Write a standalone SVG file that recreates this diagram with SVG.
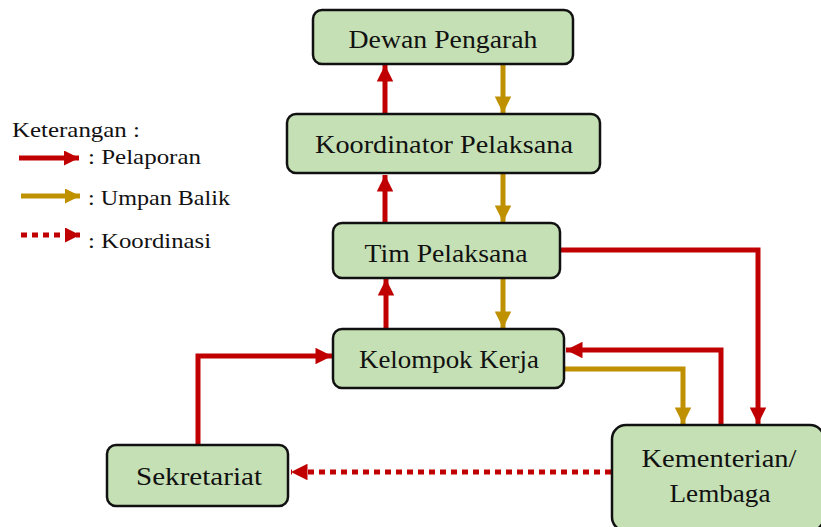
<svg xmlns="http://www.w3.org/2000/svg" width="821" height="527" viewBox="0 0 821 527">
<style>
.box{fill:#C5E0B4;stroke:#111;stroke-width:2.5}
.t{font-family:"Liberation Serif",serif;font-size:26px;fill:#111;text-anchor:middle}
.lg{font-family:"Liberation Serif",serif;font-size:21px;fill:#111}
.r{fill:none;stroke:#C00000;stroke-width:5}
.g{fill:none;stroke:#BF9000;stroke-width:5}
.d{fill:none;stroke:#C00000;stroke-width:5;stroke-dasharray:6 5}
</style>
<defs>
<marker id="ar" viewBox="0 0 10 10" refX="10" refY="5" markerWidth="4.8" markerHeight="3.3" markerUnits="strokeWidth" orient="auto"><path d="M0,0 L10,5 L0,10 Z" fill="#C00000"/></marker>
<marker id="ag" viewBox="0 0 10 10" refX="10" refY="5" markerWidth="4.8" markerHeight="3.3" markerUnits="strokeWidth" orient="auto"><path d="M0,0 L10,5 L0,10 Z" fill="#BF9000"/></marker>
<marker id="al" viewBox="0 0 10 10" refX="10" refY="5" markerWidth="3.6" markerHeight="3" markerUnits="strokeWidth" orient="auto"><path d="M0,0 L10,5 L0,10 Z" fill="#C00000"/></marker>
<marker id="agl" viewBox="0 0 10 10" refX="10" refY="5" markerWidth="3.6" markerHeight="3" markerUnits="strokeWidth" orient="auto"><path d="M0,0 L10,5 L0,10 Z" fill="#BF9000"/></marker>
</defs>
<g id="legend">
<text class="lg" x="12" y="137" textLength="128" lengthAdjust="spacingAndGlyphs">Keterangan :</text>
<line class="r" x1="19" y1="158" x2="79" y2="158" marker-end="url(#al)"/>
<text class="lg" x="88" y="164" textLength="113" lengthAdjust="spacingAndGlyphs">: Pelaporan</text>
<line class="g" x1="21" y1="196" x2="80" y2="196" marker-end="url(#agl)"/>
<text class="lg" x="88" y="205" textLength="142" lengthAdjust="spacingAndGlyphs">: Umpan Balik</text>
<line class="d" x1="21" y1="235" x2="80" y2="235" marker-end="url(#al)"/>
<text class="lg" x="88" y="248" textLength="123" lengthAdjust="spacingAndGlyphs">: Koordinasi</text>
</g>
<g id="connectors">
<line class="r" x1="385" y1="114" x2="385" y2="65" marker-end="url(#ar)"/>
<line class="g" x1="503" y1="64" x2="503" y2="113" marker-end="url(#ag)"/>
<line class="r" x1="385" y1="223" x2="385" y2="175" marker-end="url(#ar)"/>
<line class="g" x1="503" y1="174" x2="503" y2="222" marker-end="url(#ag)"/>
<line class="r" x1="386" y1="329" x2="386" y2="279" marker-end="url(#ar)"/>
<line class="g" x1="503" y1="279" x2="503" y2="328" marker-end="url(#ag)"/>
<polyline class="r" points="561,250 758,250 758,424" marker-end="url(#ar)"/>
<polyline class="r" points="721,425 721,350 566,350" marker-end="url(#ar)"/>
<polyline class="g" points="565,369 683,369 683,424" marker-end="url(#ag)"/>
<polyline class="r" points="198,445 198,356 332,356" marker-end="url(#ar)"/>
<line class="d" x1="611" y1="472" x2="291" y2="472" marker-end="url(#ar)"/>
</g>
<g id="dewan-pengarah">
<rect class="box" x="313" y="10" width="260" height="54" rx="9"/>
<text class="t" x="443" y="48" textLength="189" lengthAdjust="spacingAndGlyphs">Dewan Pengarah</text>
</g>
<g id="koordinator-pelaksana">
<rect class="box" x="287" y="114" width="313" height="59" rx="9"/>
<text class="t" x="444" y="153" textLength="258" lengthAdjust="spacingAndGlyphs">Koordinator Pelaksana</text>
</g>
<g id="tim-pelaksana">
<rect class="box" x="333" y="223" width="227" height="55" rx="9"/>
<text class="t" x="446" y="262" textLength="163" lengthAdjust="spacingAndGlyphs">Tim Pelaksana</text>
</g>
<g id="kelompok-kerja">
<rect class="box" x="333" y="329" width="231" height="59" rx="9"/>
<text class="t" x="449" y="368" textLength="180" lengthAdjust="spacingAndGlyphs">Kelompok Kerja</text>
</g>
<g id="sekretariat">
<rect class="box" x="107" y="445" width="181" height="61" rx="9"/>
<text class="t" x="199" y="485" textLength="126" lengthAdjust="spacingAndGlyphs">Sekretariat</text>
</g>
<g id="kementerian-lembaga">
<rect class="box" x="612" y="425" width="212" height="106" rx="14"/>
<text class="t" x="719" y="467" textLength="155" lengthAdjust="spacingAndGlyphs">Kementerian/</text>
<text class="t" x="720" y="502" textLength="101" lengthAdjust="spacingAndGlyphs">Lembaga</text>
</g>
</svg>
